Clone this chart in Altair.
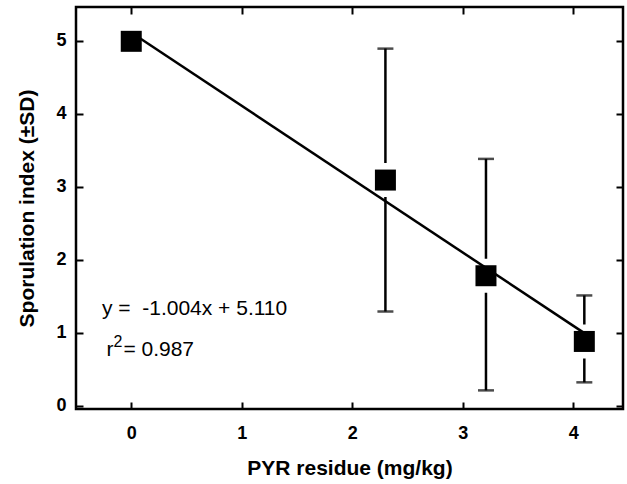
import altair as alt
import pandas as pd

# Data
x_vals = [0.0, 2.30, 3.21, 4.10]
y_vals = [4.99, 3.09, 1.78, 0.88]

err_x = [2.30, 3.21, 4.10]
err_lo = [1.29, 0.21, 0.32]
err_hi = [4.89, 3.38, 1.51]

line_x = [0.0, 4.1]
line_y = [5.110, 5.110 - 1.004 * 4.1]

x_ticks = [0, 1, 2, 3, 4]
y_ticks = [0, 1, 2, 3, 4, 5]

pts = pd.DataFrame({"x": x_vals, "y": y_vals})
err = pd.DataFrame({"x": err_x, "lo": err_lo, "hi": err_hi})
reg = pd.DataFrame({"x": line_x, "y": line_y})

eq_df = pd.DataFrame({"x": [-0.265], "y": [1.24], "t": ["y = \u00a0-1.004x + 5.110"]})
r_df = pd.DataFrame({"x": [-0.225], "y": [0.68]})

FONT = "Liberation Sans"
xs = alt.Scale(domain=[-0.5, 4.45], nice=False, zero=False)
ys = alt.Scale(domain=[-0.045, 5.46], nice=False, zero=False)

tick_style = dict(offset=-7, tickSize=7, tickWidth=2, tickColor="black", domain=False, grid=False)
label_style = dict(
    labelFont=FONT, labelFontWeight="bold", labelFontSize=18, labelColor="black",
    titleFont=FONT, titleFontWeight="bold", titleFontSize=21, titleColor="black",
)

x_bottom = alt.Axis(values=x_ticks, title="PYR residue (mg/kg)", labelPadding=15,
                    titlePadding=15, orient="bottom", **tick_style, **label_style)
y_left = alt.Axis(values=y_ticks, title="Sporulation index (\u00b1SD)", labelPadding=10,
                  titlePadding=18, orient="left", **tick_style, **label_style)
x_top = alt.Axis(values=x_ticks, title="", labels=False, orient="top", **tick_style)
y_right = alt.Axis(values=y_ticks, title="", labels=False, orient="right", **tick_style)

def X(field="x", axis=None):
    return alt.X(f"{field}:Q", scale=xs, axis=axis)

def Y(field="y", axis=None):
    return alt.Y(f"{field}:Q", scale=ys, axis=axis)

bars = alt.Chart(err).mark_rule(color="black", strokeWidth=2.5).encode(
    x=X(), y=Y("lo"), y2="hi:Q")
cap_lo = alt.Chart(err).mark_tick(color="black", orient="horizontal", size=16, thickness=2.5).encode(
    x=X(), y=Y("lo"))
cap_hi = alt.Chart(err).mark_tick(color="black", orient="horizontal", size=16, thickness=2.5).encode(
    x=X(), y=Y("hi"))
halo = alt.Chart(pts).mark_point(shape="square", filled=True, color="#ffffff", opacity=1, size=1156).encode(
    x=X(axis=x_top), y=Y(axis=y_right))
regline = alt.Chart(reg).mark_line(color="black", strokeWidth=2.5).encode(x=X(), y=Y())
squares = alt.Chart(pts).mark_point(shape="square", filled=True, color="black", opacity=1, size=441).encode(
    x=X(axis=x_bottom), y=Y(axis=y_left))

eq_text = alt.Chart(eq_df).mark_text(align="left", baseline="alphabetic", font=FONT, fontSize=21,
                                     color="black").encode(x=X(), y=Y(), text="t:N")
r_text = alt.Chart(r_df).mark_text(align="left", baseline="alphabetic", font=FONT, fontSize=21,
                                   color="black", text="r").encode(x=X(), y=Y())
r_sup = alt.Chart(r_df).mark_text(align="left", baseline="alphabetic", font=FONT, fontSize=16,
                                  color="black", text="2", dx=7, dy=-9).encode(x=X(), y=Y())
r_val = alt.Chart(r_df).mark_text(align="left", baseline="alphabetic", font=FONT, fontSize=21,
                                  color="black", text="= 0.987", dx=17).encode(x=X(), y=Y())

chart = alt.layer(
    bars, cap_lo, cap_hi, halo, regline, squares, eq_text, r_text, r_sup, r_val
).resolve_scale(x="independent", y="independent").resolve_axis(
    x="independent", y="independent").properties(
    width=547, height=402,
    autosize=alt.AutoSizeParams(type="none"),
    padding={"left": 76, "top": 7, "right": 4, "bottom": 75},
).configure_view(stroke="black", strokeWidth=2.5)

chart.save("out.html", embed_options={"renderer": "svg", "actions": False})
